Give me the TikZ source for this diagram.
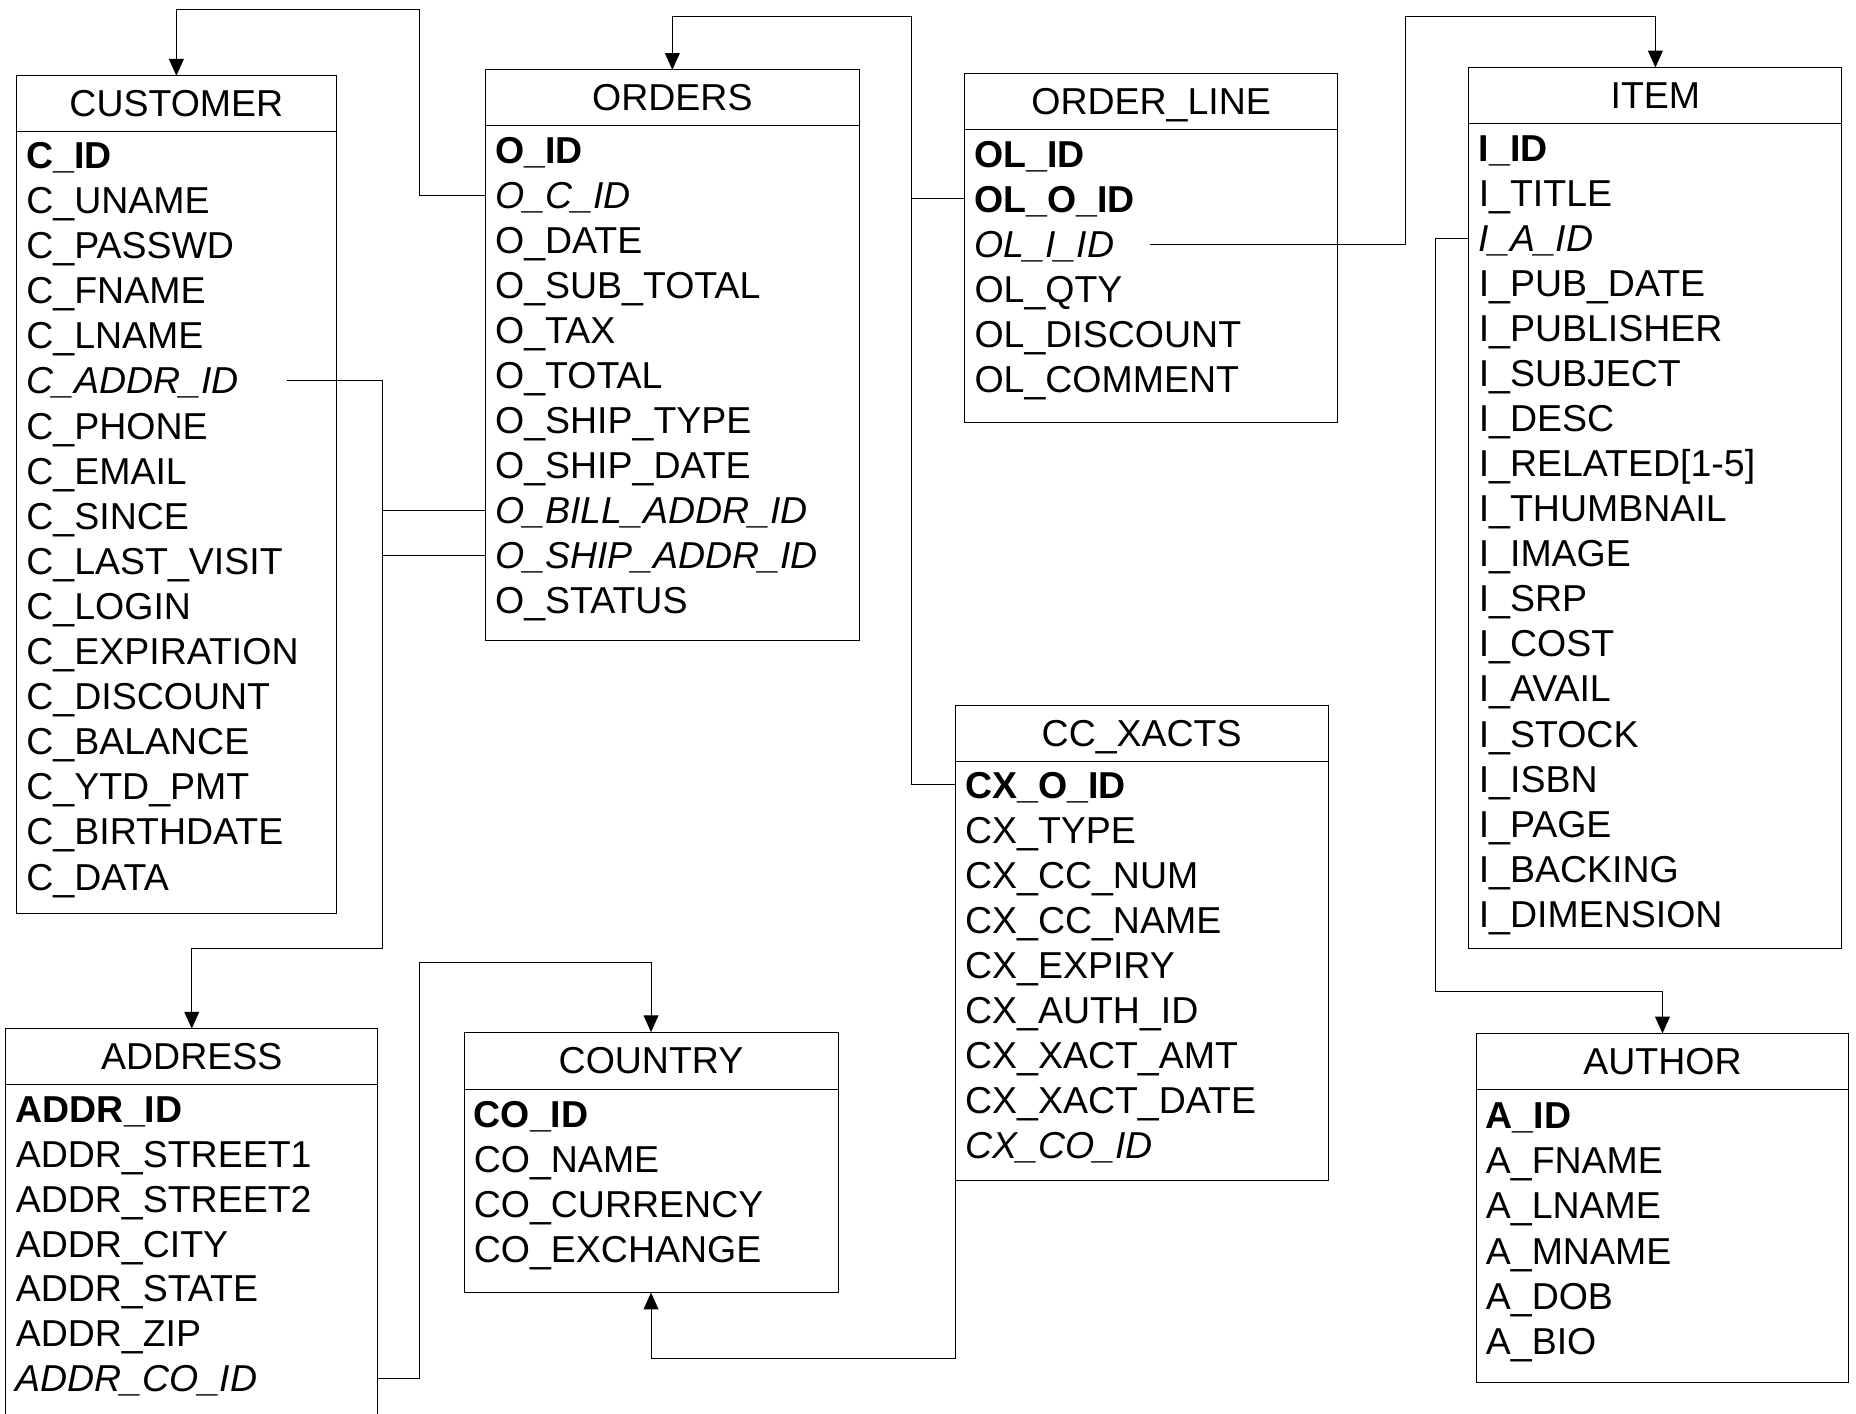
\documentclass[tikz,border=0pt]{standalone}
\usepackage{fontspec}
\setmainfont{Liberation Sans}
\usetikzlibrary{arrows.meta,fit}

\tikzset{
  tbl/.style={draw, line width=0.5pt, inner sep=0pt, outer sep=0pt},
  ttl/.style={inner sep=0pt, text height=13.6pt, text depth=0pt, font=\fontsize{19pt}{22pt}\selectfont},
  fld/.style={anchor=west, inner sep=0pt, text height=13.6pt, text depth=0pt, font=\fontsize{19pt}{22pt}\selectfont},
  link/.style={draw, line width=0.5pt},
  fk/.style={link, -{Triangle[width=7.5pt,length=8.5pt]}}
}

\begin{document}
\begin{tikzpicture}[x=0.6pt,y=-0.6pt]
  \useasboundingbox (0,0) rectangle (1568,1194);

  % CUSTOMER
  \node[tbl, fit={(14,64) (284,772)}] (customer) {};
  \node[ttl] (customer-t) at (149,87) {CUSTOMER};
  \draw[link] (14,111) -- (284,111);
  \foreach \f [count=\i] in {\textbf{C\_ID}, C\_UNAME, C\_PASSWD, C\_FNAME, C\_LNAME, \textit{C\_ADDR\_ID},
      C\_PHONE, C\_EMAIL, C\_SINCE, C\_LAST\_VISIT, C\_LOGIN, C\_EXPIRATION, C\_DISCOUNT,
      C\_BALANCE, C\_YTD\_PMT, C\_BIRTHDATE, C\_DATA}
    \node[fld] (cust-\i) at (22,{131+38.1*(\i-1)}) {\f};

  % ORDERS
  \node[tbl, fit={(410,59) (726,541)}] (orders) {};
  \node[ttl] (orders-t) at (568,82) {ORDERS};
  \draw[link] (410,106) -- (726,106);
  \foreach \f [count=\i] in {\textbf{O\_ID}, \textit{O\_C\_ID}, O\_DATE, O\_SUB\_TOTAL, O\_TAX, O\_TOTAL,
      O\_SHIP\_TYPE, O\_SHIP\_DATE, \textit{O\_BILL\_ADDR\_ID}, \textit{O\_SHIP\_ADDR\_ID}, O\_STATUS}
    \node[fld] (ord-\i) at (418,{127+38*(\i-1)}) {\f};

  % ORDER_LINE
  \node[tbl, fit={(815,62) (1130,357)}] (ol) {};
  \node[ttl] (ol-t) at (972.5,85) {ORDER\_LINE};
  \draw[link] (815,109) -- (1130,109);
  \foreach \f [count=\i] in {\textbf{OL\_ID}, \textbf{OL\_O\_ID}, \textit{OL\_I\_ID}, OL\_QTY,
      OL\_DISCOUNT, OL\_COMMENT}
    \node[fld] (ol-\i) at (823,{130+38.1*(\i-1)}) {\f};

  % ITEM
  \node[tbl, fit={(1241,57) (1556,801)}] (item) {};
  \node[ttl] (item-t) at (1398.5,80) {ITEM};
  \draw[link] (1241,104) -- (1556,104);
  \foreach \f [count=\i] in {\textbf{I\_ID}, I\_TITLE, \textit{I\_A\_ID}, I\_PUB\_DATE, I\_PUBLISHER,
      I\_SUBJECT, I\_DESC, {I\_RELATED[1-5]}, I\_THUMBNAIL, I\_IMAGE, I\_SRP, I\_COST, I\_AVAIL,
      I\_STOCK, I\_ISBN, I\_PAGE, I\_BACKING, I\_DIMENSION}
    \node[fld] (item-\i) at (1249,{125+38.06*(\i-1)}) {\f};

  % CC_XACTS
  \node[tbl, fit={(807,596) (1122,997)}] (ccx) {};
  \node[ttl] (ccx-t) at (964.5,619) {CC\_XACTS};
  \draw[link] (807,643) -- (1122,643);
  \foreach \f [count=\i] in {\textbf{CX\_O\_ID}, CX\_TYPE, CX\_CC\_NUM, CX\_CC\_NAME, CX\_EXPIRY,
      CX\_AUTH\_ID, CX\_XACT\_AMT, CX\_XACT\_DATE, \textit{CX\_CO\_ID}}
    \node[fld] (cx-\i) at (815,{663+38.1*(\i-1)}) {\f};

  % ADDRESS
  \node[tbl, fit={(5,869) (319,1200)}] (address) {};
  \node[ttl] (address-t) at (162,892) {ADDRESS};
  \draw[link] (5,916) -- (319,916);
  \foreach \f [count=\i] in {\textbf{ADDR\_ID}, ADDR\_STREET1, ADDR\_STREET2, ADDR\_CITY, ADDR\_STATE,
      ADDR\_ZIP, \textit{ADDR\_CO\_ID}}
    \node[fld] (addr-\i) at (13,{937+37.9*(\i-1)}) {\f};

  % COUNTRY
  \node[tbl, fit={(392,872) (708,1092)}] (country) {};
  \node[ttl] (country-t) at (550,895.5) {COUNTRY};
  \draw[link] (392,920) -- (708,920);
  \foreach \f [count=\i] in {\textbf{CO\_ID}, CO\_NAME, CO\_CURRENCY, CO\_EXCHANGE}
    \node[fld] (co-\i) at (400,{941+38*(\i-1)}) {\f};

  % AUTHOR
  \node[tbl, fit={(1247,873) (1562,1168)}] (author) {};
  \node[ttl] (author-t) at (1404.5,896) {AUTHOR};
  \draw[link] (1247,920) -- (1562,920);
  \foreach \f [count=\i] in {\textbf{A\_ID}, A\_FNAME, A\_LNAME, A\_MNAME, A\_DOB, A\_BIO}
    \node[fld] (auth-\i) at (1255,{942+38.2*(\i-1)}) {\f};

  % bends of the foreign key lines
  \coordinate (cust-bus) at (354,8);
  \coordinate (ord-bus) at (770,14);
  \coordinate (item-bus) at (1187,14);
  \coordinate (addr-bus) at (323,801);
  \coordinate (ctry-bus) at (354,813);
  \coordinate (ctry-bus2) at (550,1148);
  \coordinate (auth-bus) at (1213,838);

  % foreign keys
  \draw[fk] (orders.west |- ord-2) -| (cust-bus) -| (customer.north);
  \draw[fk] (ol.west |- ol-2) -| (ord-bus) -| (orders.north);
  \draw[link] (ccx.west |- cx-1) -| (ord-bus);
  \draw[fk] ([xshift=18pt]ol-3.east) -| (item-bus) -| (item.north);
  \draw[fk] ([xshift=24pt]cust-6.east) -| (addr-bus) -| (address.north);
  \draw[link] (orders.west |- ord-9) -- (addr-bus |- ord-9);
  \draw[link] (orders.west |- ord-10) -- (addr-bus |- ord-10);
  \draw[fk] (address.east |- addr-7) -| (ctry-bus) -| (country.north);
  \draw[fk] (ccx.west |- cx-9) |- (ctry-bus2) -- (country.south);
  \draw[fk] (item.west |- item-3) -| (auth-bus) -| (author.north);
\end{tikzpicture}
\end{document}
